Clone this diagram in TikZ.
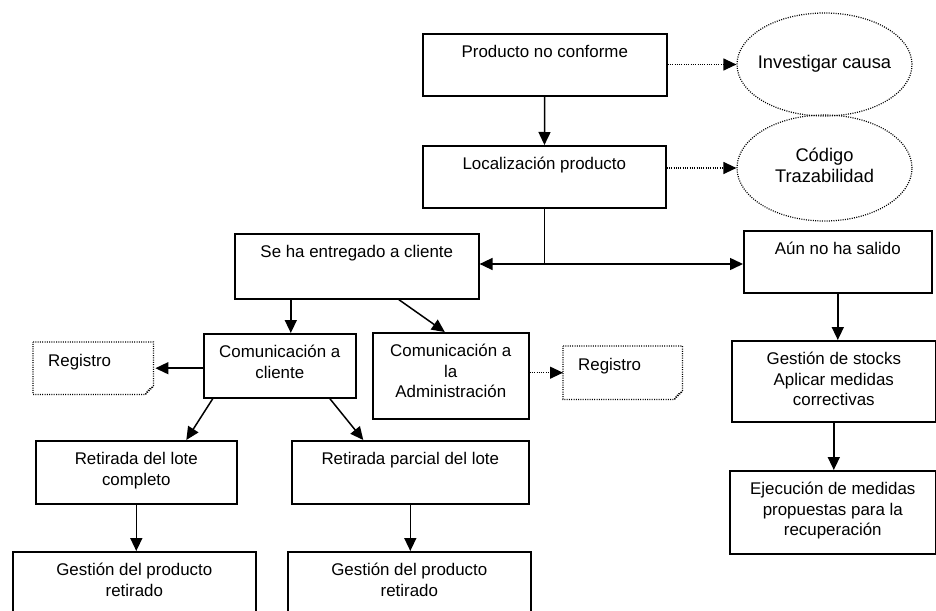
\documentclass[tikz,border=0pt]{standalone}
\usepackage{fontspec}
\setmainfont{Liberation Sans}
\usetikzlibrary{arrows.meta,shapes.geometric}
\newcommand{\bxt}[3]{\parbox[c][#2pt][t]{#1pt}{\centering\vspace*{9.7pt}\strut #3\par}}
\newcommand{\rgt}[3]{\parbox[c][#2pt][t]{#1pt}{\raggedright\vspace*{9.7pt}\hspace*{15pt}\strut #3\par}}
\newcommand{\ovt}[1]{\makebox[0pt]{\begin{tabular}{@{}c@{}}#1\end{tabular}}}
\tikzset{
  box/.style={draw, line width=1.6pt, inner sep=0pt, anchor=north west},
  regbox/.style={draw=none, inner sep=0pt, anchor=north west},
  regline/.style={line width=1.2pt, dash pattern=on 1pt off 1.3pt},
  oval/.style={ellipse, draw, line width=1.2pt, dash pattern=on 1pt off 1.3pt, inner sep=0pt, font=\fontsize{18.3}{21}\selectfont},
  arr/.style={line width=1.5pt, -{Triangle[length=13pt,width=12pt]}},
  darr/.style={line width=1.2pt, dash pattern=on 1pt off 1.3pt, -{Triangle[length=13pt,width=12pt]}}
}
\begin{document}
\begin{tikzpicture}[x=1pt,y=-1pt,font=\fontsize{16.9}{20.5}\selectfont]
\useasboundingbox (0,0) rectangle (936,610);
\fill[white] (0,0) rectangle (936,610);
\clip (0,0) rectangle (936,610);

% boxes
\node[box] (p1) at (422,33) {\bxt{244}{62}{Producto no conforme}};
\node[box] (p2) at (422,145) {\bxt{243}{62}{Localización producto}};
\node[oval, minimum width=175pt, minimum height=103pt] (e1) at (824.5,64.5) {\ovt{Investigar causa}};
\node[oval, minimum width=175pt, minimum height=106pt] (e2) at (824.5,168) {\ovt{Código\\Trazabilidad}};
\node[box] (se) at (234,233) {\bxt{244}{65}{Se ha entregado a cliente}};
\node[box] (an) at (743,230) {\bxt{188}{62}{Aún no ha salido}};
\node[box] (gs) at (731,340) {\bxt{204}{81}{Gestión de stocks\\Aplicar medidas\\correctivas}};
\node[box] (ej) at (729,470) {\bxt{206}{83}{Ejecución de medidas\\propuestas para la\\recuperación}};
\node[box] (cc) at (203,333) {\bxt{152}{64}{Comunicación a\\cliente}};
\node[box] (ca) at (372,332) {\bxt{156}{86}{Comunicación a\\la\\Administración}};
\node[regbox] (r1) at (33,342) {\rgt{120}{52}{Registro}};
\node[regbox] (r2) at (563,346) {\rgt{119}{53}{Registro}};
\node[box] (rc) at (35,440) {\bxt{201}{63}{Retirada del lote\\completo}};
\node[box] (rp) at (291,440) {\bxt{237}{63}{Retirada parcial del lote}};
\node[box] (g1) at (12,551) {\bxt{243}{80}{Gestión del producto\\retirado}};
\node[box] (g2) at (287,551) {\bxt{243}{80}{Gestión del producto\\retirado}};

% Registro outlines (dotted, folded corner)
\foreach \r in {r1,r2}{
  \draw[regline] (\r.north west) -- (\r.north east) -- ([yshift=8pt]\r.south east)
     -- ([xshift=-8pt]\r.south east) -- (\r.south west) -- cycle;
  \draw[regline] ([xshift=-8pt]\r.south east) .. controls ([xshift=-5pt,yshift=5pt]\r.south east) .. ([yshift=8pt]\r.south east);
}

% connectors
\draw[arr] (p1) -- (p2);
\draw[darr] (p1.east |- e1.west) -- (e1.west);
\draw[darr] (p2.east |- e2.west) -- (e2.west);
\coordinate (j) at (p2.south |- 0,264);
\draw[line width=1.5pt] (p2.south) -- (j);
\draw[arr] (j) -- (j -| se.east);
\draw[arr] (j) -- (j -| an.west);
\draw[arr] ([xshift=11pt]cc.north |- se.south) -- ([xshift=11pt]cc.north);
\draw[arr] ([xshift=42pt]se.south) -- ([xshift=-6pt]ca.north);
\draw[arr] (cc.west |- r1.east) -- ([xshift=2pt]r1.east);
\draw[darr] (ca.east |- r2.west) -- (r2.west);
\draw[arr] ([xshift=-67pt]cc.south) -- ([xshift=50pt]rc.north);
\draw[arr] ([xshift=50pt]cc.south) -- ([xshift=-47pt]rp.north);
\draw[arr] (rc.south) -- (rc.south |- g1.north);
\draw[arr] (rp.south) -- (rp.south |- g2.north);
\draw[arr] (an.south) -- (an.south |- gs.north);
\draw[arr] (gs.south) -- (gs.south |- ej.north);
\end{tikzpicture}
\end{document}
